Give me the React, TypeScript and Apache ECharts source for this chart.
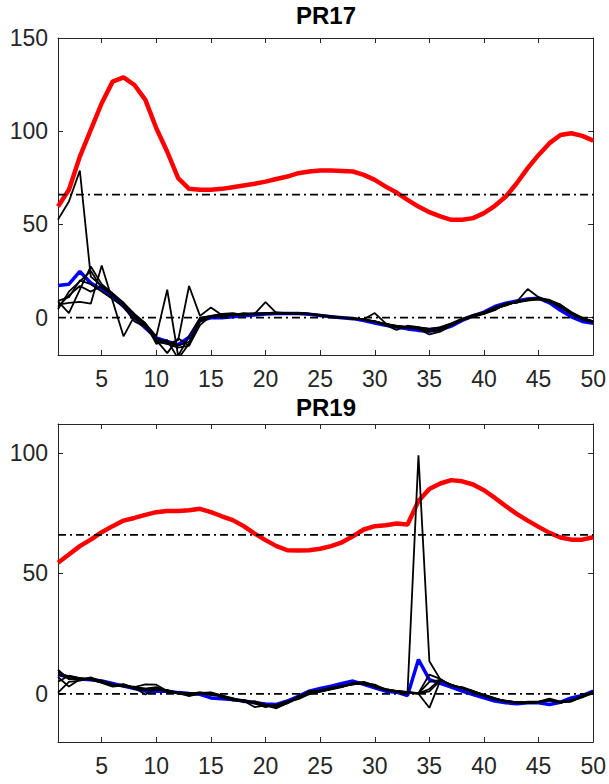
import React, { useEffect, useRef } from "react";
import * as echarts from "echarts";

// Sample index along the x axis (1..50)
const STEPS: number[] = Array.from({ length: 50 }, (_, i) => i + 1);

const X_TICKS = [5, 10, 15, 20, 25, 30, 35, 40, 45, 50];
const Y_TICKS_PR17 = [0, 50, 100, 150];
const Y_TICKS_PR19 = [0, 50, 100];
const THRESHOLDS = [0, 66];

// ---------- PR17 ----------
const red17 = [59.6, 68.6, 86.4, 100.7, 115, 126.6, 128.9, 124.8, 116.8, 101.6, 89, 74.8, 69.1, 68.6, 68.6, 69.1, 70, 70.9, 71.8, 73, 74.4, 75.7, 77.5, 78.4, 78.9, 78.9, 78.7, 78.4, 76.6, 73.9, 70.3, 67.1, 63.2, 59.6, 56.6, 54.3, 52.5, 52.5, 53.4, 56.1, 60, 65, 72.1, 80.2, 87.3, 93.6, 98, 98.9, 97.5, 95];
const blue17 = [17.3, 18, 24.8, 18.6, 15, 11.4, 6, 0, -5.5, -10.9, -12.7, -14.5, -10.5, -1.5, 0, 0, 0.5, 1, 1.5, 2, 2.2, 2.3, 2.2, 1.8, 1.2, 0.5, 0, -0.5, -1.5, -2.8, -4, -5, -6, -6.8, -7.2, -6.5, -4.5, -1.5, 1, 3, 6, 7.8, 9, 10, 10.5, 8, 4, 0.5, -2, -3];
const black17 = [
  [52.6, 62.3, 78.9, 22, 17, 12, 7, 1, -4, -11, -13, -15, -13, -2, 0.5, 1, 1.5, 2, 2, 2.3, 2.5, 2.5, 2.4, 2, 1.3, 0.6, 0, -0.3, -1, -2, -3.5, -4.5, -5, -5.5, -6, -5.5, -3.5, -1, 1, 2.5, 5, 7, 8.5, 9.5, 10, 9.5, 6, 2.5, -0.5, -2],
  [8.7, 2.5, 15, 27.5, 18, 13, 8, 2, -3, -10, 15, -20.5, -10, 0, 1, 2, 2.5, 1.5, 2, 2.5, 2.8, 2.5, 2.5, 2.2, 1.5, 0.8, 0.2, -0.3, -1.2, -2.2, -4, -6.5, -4.3, -5, -6.5, -5, -3, -0.5, 1.5, 3, 5.5, 7.5, 8, 10, 10.5, 9.5, 7, 2.5, 0, -2.5],
  [7, 8, 8.5, 7.5, 28, 9, -10, 1, -4, -13, -14, -12, 17, 1, 5.5, 1.5, 1.2, 2, 2.2, 2, 2.3, 2.5, 2.3, 2, 1, 0.5, -0.2, -0.5, -0.8, 2.5, -3, -5, -5.5, -6, -9, -7.5, -4, -1.5, 0.5, 2, 4, 7.5, 8.5, 15.4, 11, 9, 7, 3, 0, -2],
  [4.5, 14, 19.5, 25, 16, 12, 8, 0, -5, -12, -19, -11, -15, -1, 1, 1.5, 1.5, 2.5, 2, 8.4, 2.5, 2.2, 2.3, 2, 1.2, 0.5, 0, -0.5, -1, -1.8, -3.5, -4.5, -4.8, -5.8, -7.5, -6.5, -4, -1, 1, 2, 5, 6.5, 8.8, 9.5, 10.2, 9, 5.5, 2, -1, -2.5],
  [6, 12, 17, 14, 17, 13, 7, 1, -3, -14, -12, -22, -14, -2, 0.5, 0.8, 1.5, 1.8, 2.5, 2.3, 2.5, 2.6, 2.4, 2, 1.4, 0.7, 0, -0.2, -1, -2, -3.8, -5, -5.2, -5.5, -6.2, -5.8, -3.2, -1.2, 0.8, 2.8, 4.5, 6.8, 8.5, 9.8, 10, 8.5, 5.8, 2.2, -0.5, -2.2],
  [9, 11, 20, 18, 14, 10, 6, -2, -5, -12, -14, -16, -15, -4, 1, 1, 1.8, 2, 1.8, 2.2, 2.4, 2.4, 2.5, 2.1, 1.3, 0.6, 0.1, -0.4, -1, -2.2, -3.3, -4.3, -5.2, -5.2, -5.8, -5.2, -3.8, -1, 1.2, 2.5, 5.2, 7.2, 8.2, 9.2, 9.8, 8.8, 6.2, 2, -0.5, -1.8],
];

// ---------- PR19 ----------
const red19 = [54.4, 57.8, 61.3, 64, 67.1, 69.6, 71.9, 73, 74.3, 75.4, 75.9, 75.9, 76.2, 76.8, 75.4, 73.7, 72.1, 69.6, 66.5, 63.8, 61.3, 59.6, 59.5, 59.6, 60.2, 61.3, 62.9, 65.4, 68.2, 69.6, 70, 70.7, 70.3, 80, 85, 87.3, 88.7, 88.2, 86.9, 84.5, 81.3, 77.9, 74.7, 71.9, 69.3, 66.8, 64.9, 64, 64, 65];
const blue19 = [8, 7, 6.2, 5.8, 5.3, 4.3, 3.2, 2.2, 1.1, 1.1, 1.1, 0.5, 0.1, -0.2, -1.7, -2, -2.4, -3, -3.7, -4.2, -4.4, -3, -1, 1.1, 2.2, 3.2, 4.3, 5.3, 3.9, 2.5, 1.1, 0.7, -0.7, 14.2, 5.9, 4.3, 2.8, 1.1, -0.3, -1.7, -3, -3.7, -4.1, -3.7, -3.7, -4.4, -3.5, -1.7, -0.7, 1.1];
const black19 = [
  [9, 7, 6, 6.5, 5, 3.5, 4, 2.5, 2, 2.5, 1, 0.5, 0, 0.5, 0.2, -1, -2, -3, -3.5, -5, -5, -3.5, -1.5, 0, 1, 2, 3, 4, 4.5, 3, 1.5, 1, 0.5, 99, 13.5, 6, 3.5, 2.5, 1, -0.5, -2, -3, -3.5, -3.5, -3.5, -2.5, -3.5, -3, -1, 0.5],
  [10, 6, 6.5, 6, 4.5, 3, 3.5, 2, 1.5, 2, 1.5, 0, -0.5, 0, 0.5, -1.5, -2.5, -2.5, -4, -5.5, -4.5, -3, -2, 0.5, 1.5, 2.5, 3, 4.5, 5, 3.5, 2, 1, 0.5, 0, -5.8, 5.5, 3.8, 2.2, 0.8, -1, -2.3, -3.2, -3.8, -3.3, -3.2, -2.8, -3.8, -2.5, -1.2, 1],
  [0.5, 5, 5.5, 6.5, 5.5, 4, 3, 3, 1.8, 1.5, 1.5, 0.3, 0.2, 0.5, -0.5, -1, -2.2, -3.5, -3, -4.5, -5.5, -4, -1.8, 0.2, 1.2, 2.2, 3.2, 3.8, 4.8, 2.8, 1.5, 1.2, 0.8, 0.3, 8, 6.2, 3.2, 2.8, 1.2, -0.8, -2.2, -2.8, -3.6, -3.8, -3.2, -2, -3.2, -3, -0.8, 0.8],
  [7, 3, 6, 6.2, 5.2, 3.8, 3.5, 2.8, 3.9, 3.8, 1.2, 0.5, -1, 0.2, 0.4, -1.2, -2.8, -3, -5.5, -4.8, -6, -3.8, -1, 0.3, 0.8, 1.8, 2.8, 4.2, 4, 3.2, 1.8, 1.2, 0.6, 0.2, 5, 5.8, 3.6, 2.4, 1, -0.3, -1.8, -3.3, -3.4, -3.6, -3.4, -2.6, -3.3, -3.2, -1.3, 0.2],
  [5, 7.5, 6.5, 5.8, 4.8, 3.2, 3.8, 2.5, -0.3, 2.2, 0.8, 0.2, 0.1, 0.6, 0, -0.8, -1.8, -3.2, -3.6, -5.2, -4.8, -3.2, -2.2, -0.2, 1, 2.4, 3.4, 4, 4.4, 3.8, 1.6, 0.8, 0.4, 0.1, 2, 6, 3.4, 2.6, 0.6, -0.6, -2.1, -2.9, -3.7, -3.5, -3.6, -2.4, -3.6, -2.8, -1.5, 0.6],
  [8, 6.5, 5.8, 6.8, 5, 3.6, 3.2, 2.6, 2.2, 2.8, 1.3, 0.6, 0.3, 0.4, 0.6, -0.6, -2.2, -2.6, -3.8, -4.6, -5.2, -3.6, -1.6, 1.2, 1.4, 2.6, 3, 4.4, 4.2, 3.3, 1.7, 1.1, 0.7, 0.2, 1, 5.5, 3.8, 2.4, 1.1, -0.4, -1.9, -3.1, -3.5, -3.7, -3.4, -2.7, -3.4, -3.1, -0.9, 0.4],
];

const FONT = '"Liberation Sans", Arial, Helvetica, sans-serif';
const AXIS_COLOR = "#262626";

const panels = [
  { title: "PR17", top: 38, height: 317, yMin: -20, yMax: 150, yTicks: Y_TICKS_PR17, red: red17, blue: blue17, black: black17 },
  { title: "PR19", top: 424, height: 318, yMin: -20, yMax: 112, yTicks: Y_TICKS_PR19, red: red19, blue: blue19, black: black19 },
];

function pairs(values: number[]) {
  return values.map((v, i) => [STEPS[i], v]);
}

export default function App() {
  const ref = useRef<HTMLDivElement>(null);

  useEffect(() => {
    if (!ref.current) return;
    const chart = echarts.init(ref.current, undefined, { renderer: "svg" });

    const grid: any[] = [];
    const xAxis: any[] = [];
    const yAxis: any[] = [];
    const series: any[] = [];
    const graphic: any[] = [];

    panels.forEach((p, g) => {
      grid.push({ left: 58, top: p.top, width: 536, height: p.height, containLabel: false });

      const lineStyle = { color: AXIS_COLOR, width: 1 };
      const tick = (vals: number[]) => ({ show: true, inside: true, length: 5, lineStyle, customValues: vals });

      xAxis.push({
        type: "value", gridIndex: g, min: 1, max: 50, position: "bottom",
        axisLine: { show: true, onZero: false, lineStyle },
        axisTick: tick(X_TICKS),
        axisLabel: { show: true, customValues: X_TICKS, color: AXIS_COLOR, fontSize: 23, fontFamily: FONT, margin: 12 },
        splitLine: { show: false },
      });
      xAxis.push({
        type: "value", gridIndex: g, min: 1, max: 50, position: "top",
        axisLine: { show: true, onZero: false, lineStyle },
        axisTick: tick(X_TICKS),
        axisLabel: { show: false },
        splitLine: { show: false },
      });
      yAxis.push({
        type: "value", gridIndex: g, min: p.yMin, max: p.yMax, position: "left",
        axisLine: { show: true, onZero: false, lineStyle },
        axisTick: tick(p.yTicks),
        axisLabel: { show: true, customValues: p.yTicks, color: AXIS_COLOR, fontSize: 23, fontFamily: FONT, margin: 10 },
        splitLine: { show: false },
      });
      yAxis.push({
        type: "value", gridIndex: g, min: p.yMin, max: p.yMax, position: "right",
        axisLine: { show: true, onZero: false, lineStyle },
        axisTick: tick(p.yTicks),
        axisLabel: { show: false },
        splitLine: { show: false },
      });

      const xi = g * 2;
      const yi = g * 2;
      const base = { type: "line", xAxisIndex: xi, yAxisIndex: yi, showSymbol: false, symbol: "none", clip: true, silent: true };

      series.push({ ...base, name: p.title + " red", data: pairs(p.red), lineStyle: { color: "#ff0000", width: 4.5 }, z: 2 });
      series.push({ ...base, name: p.title + " blue", data: pairs(p.blue), lineStyle: { color: "#0000ff", width: 3.5 }, z: 3 });
      p.black.forEach((line, k) => {
        series.push({ ...base, name: p.title + " run " + (k + 1), data: pairs(line), lineStyle: { color: "#000000", width: 1.8 }, z: 4 });
      });
      THRESHOLDS.forEach((t) => {
        series.push({ ...base, name: p.title + " level " + t, data: [[1, t], [50, t]], lineStyle: { color: "#000000", width: 1.8, type: [8, 4, 2, 4] }, z: 5 });
      });

      graphic.push({
        type: "text", x: 326, y: g === 0 ? 15 : 407,
        style: { text: p.title, font: `bold 24px ${FONT}`, fill: "#000", textAlign: "center", textVerticalAlign: "middle" },
      });
    });

    chart.setOption({
      animation: false,
      backgroundColor: "#ffffff",
      grid, xAxis, yAxis, series, graphic,
    });

    return () => chart.dispose();
  }, []);

  return <div ref={ref} style={{ position: "absolute", left: 0, top: 0, width: 609, height: 784 }} />;
}
